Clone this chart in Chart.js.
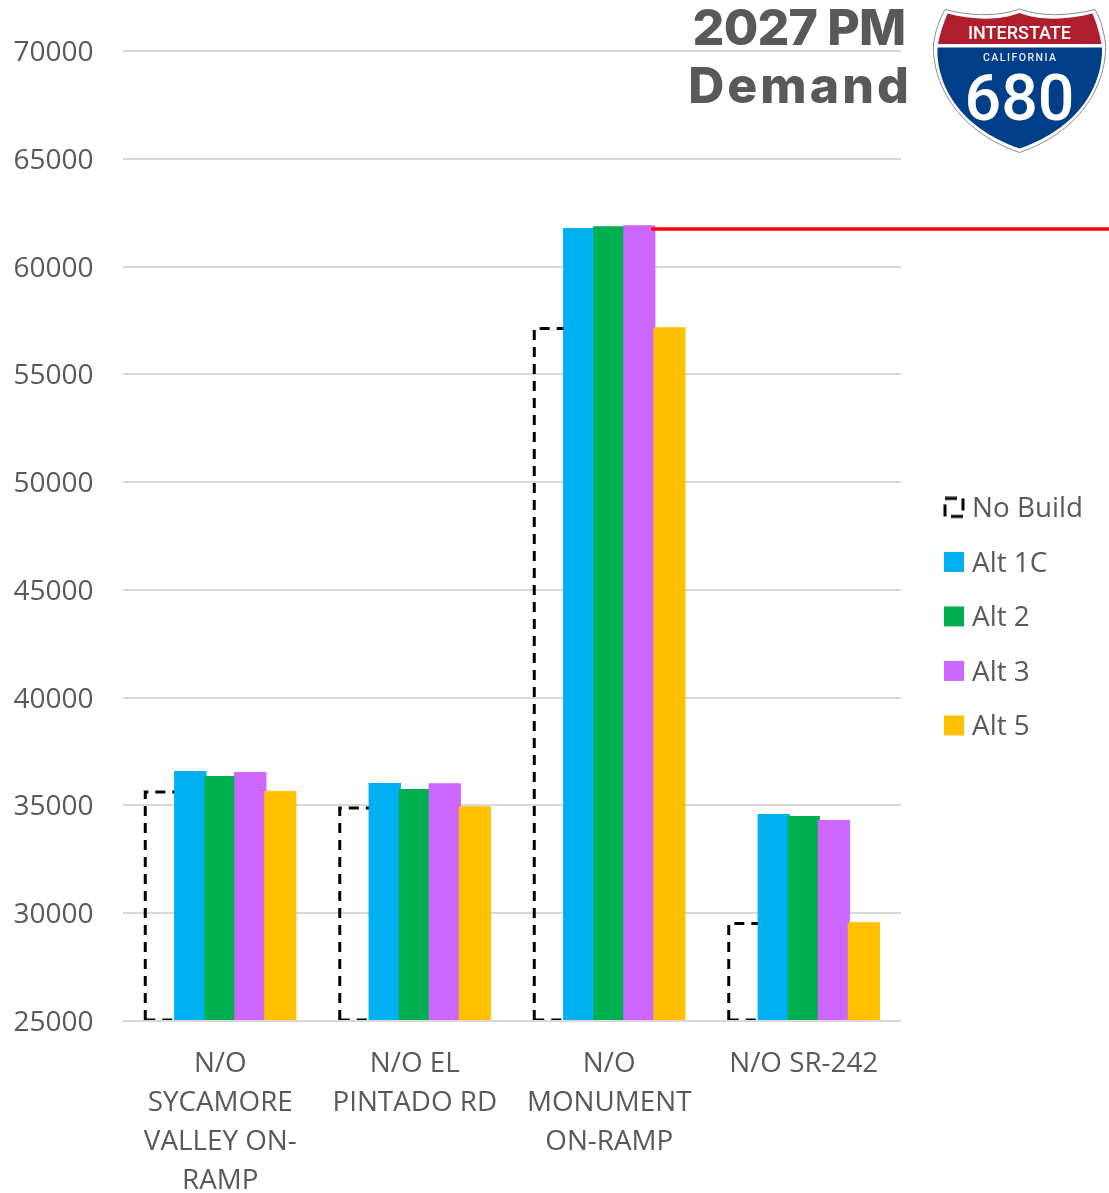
<!DOCTYPE html>
<html><head><meta charset="utf-8">
<style>html,body{margin:0;padding:0;background:#fff;overflow:hidden}#w{position:relative;width:1109px;height:1193px}canvas{position:absolute;left:0;top:0}
svg{position:absolute;left:920px;top:0}</style>
<script src="https://cdn.jsdelivr.net/npm/chart.js@4/dist/chart.umd.js"></script>
</head><body><div id="w"><canvas id="c" width="1109" height="1193"></canvas>
<svg width="189" height="160" viewBox="0 0 189 160">
<path d="M25 9.5 C50 16 78 17 99.5 9 C121 17 149 16 175 9.5 C181 20 184 32 185.5 44 C187 80 165 130 99.5 152.5 C34 130 12 80 13.5 44 C15 32 19 20 25 9.5Z" fill="#fff" stroke="#8c8c8c" stroke-width="1"/>
<path d="M27.5 13.5 C52 20 79 21 99.5 13 C120 21 147 20 172.5 13.5 C176.5 23 179.500 33 181.500 44 L18 44 C20 33 23.500 23 27.500 13.500Z" fill="#AF1E2D"/>
<path d="M17.500 47.500 L182 47.500 C183 82 162 127 99.500 148.500 C37 127 16 82 17.500 47.500Z" fill="#003F87"/>
<text x="99.500" y="38.500" text-anchor="middle" textLength="103" lengthAdjust="spacingAndGlyphs" font-family="Roboto, Liberation Sans" font-weight="500" font-size="19" fill="#fff">INTERSTATE</text>
<text x="99.500" y="61" text-anchor="middle" textLength="73" font-family="Roboto, Liberation Sans" font-weight="500" font-size="10.500" fill="#e8edf5">CALIFORNIA</text>
<text x="99.500" y="120" text-anchor="middle" textLength="110" lengthAdjust="spacingAndGlyphs" font-family="Roboto, Liberation Sans" font-weight="500" font-size="64" fill="#fff">680</text>
</svg></div>
<script>
const categories = [["N/O","SYCAMORE","VALLEY ON-","RAMP"],["N/O EL","PINTADO RD"],["N/O","MONUMENT","ON-RAMP"],["N/O SR-242"]];
const noBuild = [35620, 34880, 57130, 29520];
const alt1C = [36600, 36040, 61790, 34600];
const alt2 = [36370, 35760, 61860, 34510];
const alt3 = [36550, 36020, 61900, 34320];
const alt5 = [35670, 34950, 57170, 29570];
const axisBase = 25000;
const redLineValue = 61740;
const titleLines = ["2027 PM","Demand"];
const TXT = "#595959";
const FONT = '"Open Sans"';

function swatch(color, dashed){
  const c = document.createElement('canvas');
  c.width = 22; c.height = 26;
  const x = c.getContext('2d');
  if(dashed){
    x.strokeStyle='#000'; x.lineWidth=3; x.setLineDash([12,6]);
    x.strokeRect(2,2,18,18);
  } else {
    x.fillStyle=color; x.fillRect(1,1,20,20);
  }
  return c;
}

const overlay = {
  id:'overlay',
  afterLayout(chart){
    const l = chart.legend;
    l.left = 923; l.right = 1109; l.top = 468.8; l.bottom = 768;
  },
  afterDatasetsDraw(chart){
    const ctx = chart.ctx;
    const m0 = chart.getDatasetMeta(0);
    ctx.save();
    ctx.strokeStyle = '#000'; ctx.lineWidth = 3; ctx.setLineDash([10,7]);
    m0.data.forEach(el=>{
      const p = el.getProps(['x','y','base','width'],true);
      const L = p.x - p.width/2 + 1, R = p.x + p.width/2;
      ctx.beginPath();
      ctx.moveTo(L,p.base); ctx.lineTo(L,p.y); ctx.lineTo(R,p.y);
      ctx.stroke();
      ctx.beginPath(); ctx.moveTo(L,p.base); ctx.lineTo(R,p.base); ctx.stroke();
    });
    ctx.restore();
    for(let i=1;i<chart.data.datasets.length;i++){
      chart.getDatasetMeta(i).data.forEach(el=>el.draw(ctx,chart.chartArea));
    }
    const a3 = chart.getDatasetMeta(3).data[2].getProps(['x','width'],true);
    const ry = chart.scales.y.getPixelForValue(redLineValue);
    ctx.save();
    ctx.strokeStyle='#FF0000'; ctx.lineWidth=3.5;
    ctx.beginPath(); ctx.moveTo(a3.x+a3.width/2-4,ry); ctx.lineTo(chart.width,ry); ctx.stroke();
    ctx.restore();
  },
  afterDraw(chart){
    const ctx = chart.ctx;
    ctx.save();
    ctx.fillStyle=TXT; ctx.textAlign='center'; ctx.textBaseline='alphabetic';
    ctx.font='800 50px Inter';
    ctx.letterSpacing='-0.8px';
    ctx.fillText(titleLines[0],799,45);
    ctx.letterSpacing='3px';
    ctx.fillText(titleLines[1],800,103);
    ctx.restore();
  }
};

new Chart(document.getElementById('c'),{
  type:'bar',
  data:{labels:categories,datasets:[
    {label:'No Build',data:noBuild,backgroundColor:'rgba(0,0,0,0)',borderWidth:0},
    {label:'Alt 1C',data:alt1C,backgroundColor:'#00B0F0'},
    {label:'Alt 2',data:alt2,backgroundColor:'#00B050'},
    {label:'Alt 3',data:alt3,backgroundColor:'#CC66FF'},
    {label:'Alt 5',data:alt5,backgroundColor:'#FFC000'}
  ]},
  plugins:[overlay],
  options:{
    responsive:false,animation:false,
    layout:{padding:{top:51,right:38,left:0,bottom:0}},
    datasets:{bar:{categoryPercentage:0.771,barPercentage:1.067,base:axisBase}},
    scales:{
      x:{
        grid:{drawOnChartArea:false,drawTicks:false},
        border:{display:true,color:'#D9D9D9',width:2,z:1},
        ticks:{color:TXT,font:{family:FONT,size:27.8,lineHeight:1.403},padding:24,maxRotation:0,minRotation:0,autoSkip:false},
        afterFit(s){s.height=172;}
      },
      y:{
        min:axisBase,max:70000,
        grid:{color:'#D9D9D9',lineWidth:2,drawTicks:false},
        border:{display:false},
        ticks:{stepSize:5000,color:TXT,font:{family:FONT,size:28},padding:29.5,labelOffset:2,callback:v=>String(v)},
        afterFit(s){s.width=123;}
      }
    },
    plugins:{
      title:{display:false},
      tooltip:{enabled:false},
      legend:{
        position:'right',
        labels:{
          color:TXT,font:{family:FONT,size:27.8},boxWidth:8.5,boxHeight:20,padding:26.7,usePointStyle:true,
          generateLabels(chart){
            const items = Chart.defaults.plugins.legend.labels.generateLabels(chart);
            items.forEach((it,i)=>{ it.pointStyle = swatch(chart.data.datasets[i].backgroundColor, i===0); });
            return items;
          }
        }
      }
    }
  }
});
</script></body></html>
